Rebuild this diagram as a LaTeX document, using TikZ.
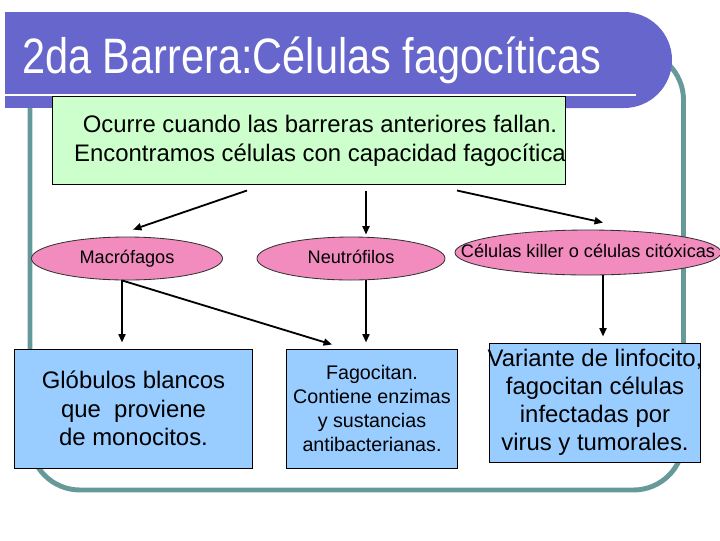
\documentclass[tikz,border=0pt]{standalone}
\usepackage{fontspec}
\setmainfont{Liberation Sans}
\usetikzlibrary{shapes.geometric,arrows.meta,calc}

\definecolor{barblue}{RGB}{102,102,204}
\definecolor{framegrey}{RGB}{102,153,153}
\definecolor{boxgreen}{RGB}{204,255,204}
\definecolor{ellpink}{RGB}{242,140,190}
\definecolor{boxblue}{RGB}{153,204,255}

\begin{document}
\begin{tikzpicture}[x=0.025cm, y=-0.025cm,
        arr/.style={-{Triangle[length=6pt,width=5pt]}, line width=1.3pt},
        cellell/.style={shape=ellipse, draw=black!80, fill=ellpink, line width=0.6pt, inner sep=0pt, text height=9pt, text depth=2.5pt, font=\fontsize{12.9}{15}\selectfont},
        infobox/.style={draw=black, fill=boxblue, line width=0.7pt, inner sep=0pt, align=center}
    ]
    \useasboundingbox (0,0) rectangle (720,540);

    % frame and title bar
    \draw[framegrey, line width=3.5pt, rounded corners=1.25cm] (30,50) rectangle (683.5,490);
    \fill[barblue, rounded corners=1.2cm] (5,12) rectangle (672,108);
    \fill[barblue] (5,12) rectangle (100,108);
    \draw[white, line width=2pt] (5,95) -- (636,95);
    \node[anchor=base west, text=white, inner sep=0pt, font=\fontsize{29.5}{35}\selectfont] (title) at (22,73) {\scalebox{1}[1.2]{2da Barrera:Células fagocíticas}};

    \node[draw=black, fill=boxgreen, line width=0.7pt, minimum width=12.8cm, minimum height=2.2cm] (top) at (309,140) {};
    \node[align=center, font=\fontsize{17}{21}\selectfont] (toptext) at (320,141) {Ocurre cuando las barreras anteriores fallan.\\Encontramos células con capacidad fagocítica};

    \node[cellell, minimum width=4.775cm, minimum height=1.075cm] (macro) at (127,258.5) {Macrófagos};
    \node[cellell, minimum width=4.7cm, minimum height=1.075cm] (neutro) at (351,258.5) {Neutrófilos};
    \node[cellell, minimum width=6.65cm, minimum height=1.125cm] (killer) at (588,252.5) {\makebox[0pt]{Células killer o células citóxicas}};

    \node[infobox, minimum width=5.925cm, minimum height=2.975cm, font=\fontsize{17}{20.2}\selectfont] (glob) at (133.5,408.5) {Glóbulos blancos\\que\ \ proviene\\de monocitos.};
    \node[infobox, minimum width=4.25cm, minimum height=2.975cm, font=\fontsize{14}{17}\selectfont] (fago) at (372,408.5) {Fagocitan.\\Contiene enzimas\\y sustancias\\antibacterianas.};
    \node[infobox, minimum width=5.25cm, minimum height=2.975cm, font=\fontsize{17}{19.8}\selectfont] (vari) at (595,402.5) {\makebox[0pt]{Variante de linfocito,}\\fagocitan células\\infectadas por\\virus y tumorales.};

    % arrows
    \draw[arr] ($(top.south)+(-62,6)$) -- ($(macro.north)+(6,-7)$);
    \draw[arr] ($(top.south)+(57,6)$) -- ($(neutro.north)+(15,-2)$);
    \draw[arr] ($(top.south)+(148,6)$) -- ($(killer.north)+(15,-7)$);
    \draw[arr] ($(macro.south)+(-5,0)$) -- ($(glob.north)+(-11.5,-6)$);
    \draw[arr] ($(macro.south)+(-5,0)$) -- ($(fago.north)+(-40,-4)$);
    \draw[arr] (neutro.south) ++(15,0) -- ($(fago.north)+(-6,-6)$);
    \draw[arr] (killer.south) ++(15,0) -- ($(vari.north)+(8,-6)$);
\end{tikzpicture}
\end{document}
